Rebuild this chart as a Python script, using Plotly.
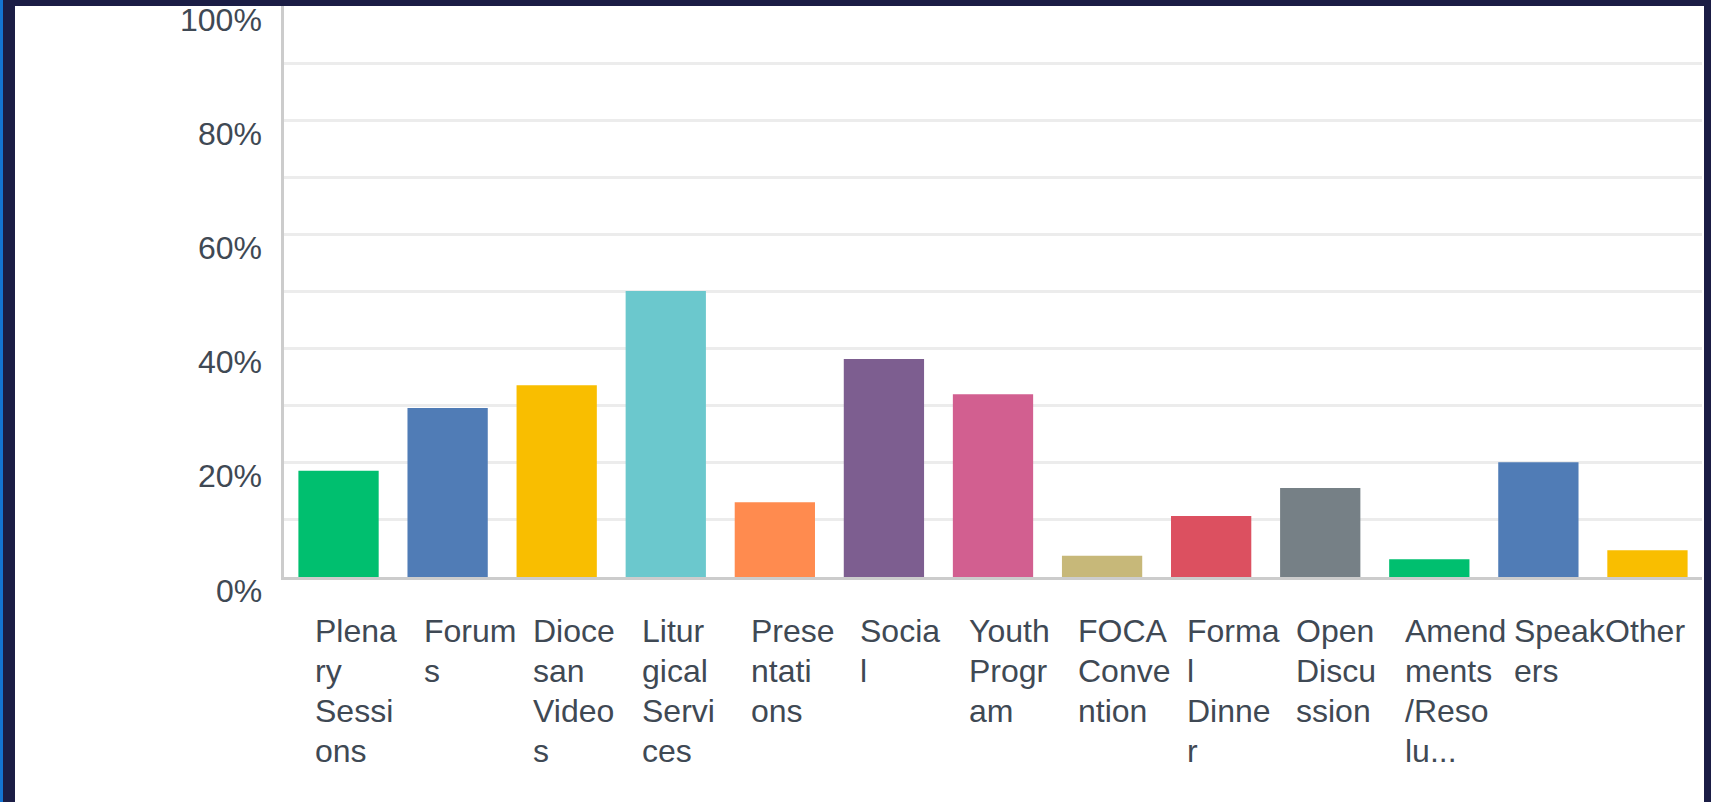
import plotly.graph_objects as go

# ---- data ----
categories = ["Plenary Sessions", "Forums", "Diocesan Videos", "Liturgical Services",
              "Presentations", "Social", "Youth Program", "FOCA Convention",
              "Formal Dinner", "Open Discussion", "Amendments/Resolu...", "Speakers", "Other"]
label_lines = [["Plena", "ry", "Sessi", "ons"], ["Forum", "s"], ["Dioce", "san", "Video", "s"],
               ["Litur", "gical", "Servi", "ces"], ["Prese", "ntati", "ons"], ["Socia", "l"],
               ["Youth", "Progr", "am"], ["FOCA", "Conve", "ntion"], ["Forma", "l", "Dinne", "r"],
               ["Open", "Discu", "ssion"], ["Amend", "ments", "/Reso", "lu..."], ["Speak", "ers"],
               ["Other"]]
values = [0.186, 0.296, 0.336, 0.501, 0.131, 0.382, 0.320, 0.037, 0.107, 0.156, 0.031, 0.201, 0.047]
colors = ["#00BF6F", "#507CB6", "#F9BE00", "#6BC8CD", "#FF8B4F", "#7D5E90", "#D25F90",
          "#C7B879", "#DC5060", "#768086", "#00BF6F", "#507CB6", "#F9BE00"]
y_tick_vals = [0, 0.2, 0.4, 0.6, 0.8, 1.0]
y_tick_text = ["0%", "20%", "40%", "60%", "80%", "100%"]
grid_vals = [0.1, 0.2, 0.3, 0.4, 0.5, 0.6, 0.7, 0.8, 0.9]

W, H = 1711, 802
L, R, T, B = 284, 9, 6, 225
TXT = "#3f4954"
FONT = "Liberation Sans"
FS = 32

fig = go.Figure(go.Bar(x=categories, y=values, marker=dict(color=colors, line=dict(width=0)),
                       hoverinfo="x+y"))

annotations = []
for v, t in zip(y_tick_vals, y_tick_text):
    annotations.append(dict(x=0, xref="paper", y=v, yref="y", text=t, showarrow=False,
                            xanchor="right", yanchor="middle", xshift=-20, yshift=-13.5,
                            font=dict(family=FONT, size=FS, color=TXT)))
n = len(categories)
for k, (cat, lines) in enumerate(zip(categories, label_lines)):
    last = (k == n - 1)
    for i, ln in enumerate(lines):
        annotations.append(dict(x=cat, xref="x", y=0, yref="paper", text=ln, showarrow=False,
                                xanchor="left", yanchor="middle",
                                xshift=-44.5 if last else -26,
                                yshift=-(54 + 40 * i), align="left",
                                font=dict(family=FONT, size=FS, color=TXT)))

pw = W - L - R
ph = H - T - B
def px(x):
    return (x - L) / pw
def py(y):
    return (H - B - y) / ph

shapes = [
    # frame: top navy, left blue + navy, right navy
    dict(type="rect", xref="paper", yref="paper", x0=px(0), x1=px(W), y0=py(6), y1=py(0),
         fillcolor="#1b1d45", line=dict(width=0), layer="above"),
    dict(type="rect", xref="paper", yref="paper", x0=px(0), x1=px(15), y0=py(H), y1=py(0),
         fillcolor="#1b1d45", line=dict(width=0), layer="above"),
    dict(type="rect", xref="paper", yref="paper", x0=px(0), x1=px(3), y0=py(H), y1=py(0),
         fillcolor="#1474d2", line=dict(width=0), layer="above"),
    dict(type="rect", xref="paper", yref="paper", x0=px(1704), x1=px(W), y0=py(H), y1=py(0),
         fillcolor="#1b1d45", line=dict(width=0), layer="above"),
]

fig.update_layout(
    width=W, height=H,
    margin=dict(l=L, r=R, t=T, b=B, pad=0),
    paper_bgcolor="white", plot_bgcolor="white",
    bargap=0.264,
    showlegend=False,
    annotations=annotations,
    shapes=shapes,
    xaxis=dict(showticklabels=False, showgrid=False, zeroline=False, showline=True,
               linecolor="#cccccc", linewidth=2.5, ticks="", fixedrange=True),
    yaxis=dict(range=[0, 1], tickvals=grid_vals, showticklabels=False, showgrid=True,
               gridcolor="#ececec", gridwidth=2.5, zeroline=False, showline=True,
               linecolor="#cccccc", linewidth=2.5, ticks="", fixedrange=True),
)

fig.write_html("out.html", config={"displayModeBar": False},
               post_script="document.body.style.margin='0';document.body.style.overflow='hidden';")
